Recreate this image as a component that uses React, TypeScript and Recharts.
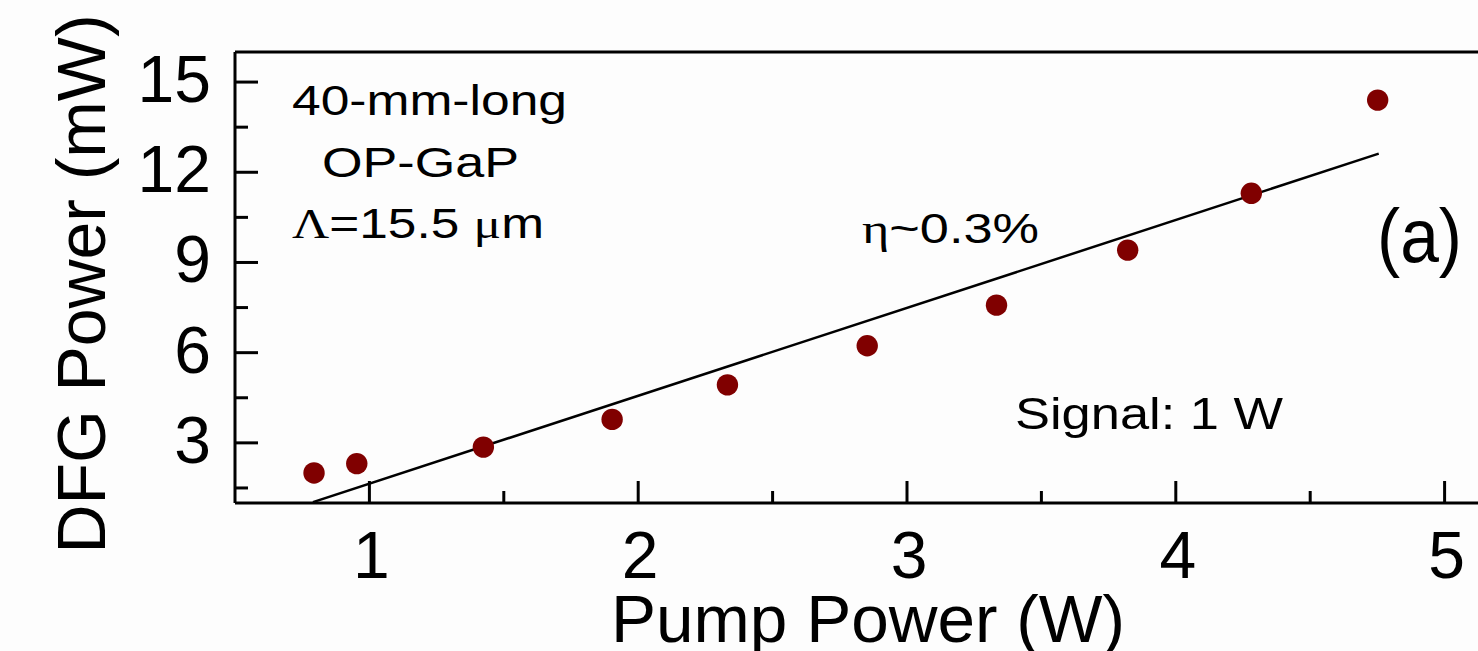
import React from 'react';
import { ComposedChart, XAxis, YAxis, Scatter, Line, ReferenceLine, Customized } from 'recharts';

// Measured DFG output vs pump power
const pumpPower = [0.794, 0.953, 1.424, 1.903, 2.332, 2.852, 3.333, 3.821, 4.281, 4.751];
const dfgPower = [2.0, 2.31, 2.86, 3.78, 4.93, 6.23, 7.58, 9.41, 11.3, 14.4];

// Linear fit end points
const fitPump = [0.79, 4.755];
const fitDfg = [1.03, 12.62];

const xTicks = [1, 1.5, 2, 2.5, 3, 3.5, 4, 4.5, 5];
const yTicks = [1.5, 3, 4.5, 6, 7.5, 9, 10.5, 12, 13.5, 15];

const xTitle = 'Pump Power (W)';
const yTitle = 'DFG Power (mW)';

const measured = pumpPower.map((x, i) => ({ x, y: dfgPower[i] }));
const fit = fitPump.map((x, i) => ({ x, y: fitDfg[i] }));

const SANS = '"Liberation Sans", Arial, sans-serif';
const SERIF = '"Liberation Serif", "Times New Roman", serif';
const DOT = '#800000';

const YTick = (props: any) => {
  const { x, y, payload } = props;
  const v = payload.value;
  const major = Math.abs(v % 3) < 1e-9;
  return (
    <g>
      <line x1={x} y1={y} x2={x + (major ? 23 : 13)} y2={y} stroke="#000" strokeWidth={3} />
      {major && (
        <text x={x - 24} y={y + 20} textAnchor="end" fontSize={66} fontFamily={SANS} fill="#000">
          {v}
        </text>
      )}
    </g>
  );
};

const XTick = (props: any) => {
  const { x, y, payload } = props;
  const v = payload.value;
  const major = Number.isInteger(v);
  return (
    <g>
      <line x1={x} y1={y} x2={x} y2={y - (major ? 22 : 12)} stroke="#000" strokeWidth={3} />
      {major && (
        <text x={x + 2} y={y + 75} textAnchor="middle" fontSize={66} fontFamily={SANS} fill="#000">
          {v}
        </text>
      )}
    </g>
  );
};

const Dot = (props: any) => {
  const { cx, cy } = props;
  return <circle cx={cx} cy={cy} r={10.7} fill={DOT} />;
};

const Annotations = () => (
  <g fontFamily={SANS} fill="#000">
    <text x={292} y={115} fontSize={42} textLength={275} lengthAdjust="spacingAndGlyphs">40-mm-long</text>
    <text x={322} y={177} fontSize={42} textLength={197} lengthAdjust="spacingAndGlyphs">OP-GaP</text>
    <text x={292} y={238} fontSize={42} textLength={252} lengthAdjust="spacingAndGlyphs">
      <tspan fontFamily={SERIF}>Λ</tspan>=15.5 <tspan fontFamily={SERIF}>μ</tspan>m
    </text>
    <text x={862} y={243} fontSize={43} textLength={177} lengthAdjust="spacingAndGlyphs">
      <tspan fontFamily={SERIF}>η</tspan>~0.3%
    </text>
    <text x={1015} y={429} fontSize={44} textLength={268} lengthAdjust="spacingAndGlyphs">Signal: 1 W</text>
    <text x={1377} y={262} fontSize={76} textLength={85} lengthAdjust="spacingAndGlyphs">(a)</text>
    <text x={868} y={642} textAnchor="middle" fontSize={67} textLength={514} lengthAdjust="spacingAndGlyphs">
      {xTitle}
    </text>
    <text
      x={105}
      y={284}
      transform="rotate(-90 105 284)"
      textAnchor="middle"
      fontSize={68}
      textLength={539}
      lengthAdjust="spacingAndGlyphs"
    >
      {yTitle}
    </text>
  </g>
);

export default function App() {
  return (
    <div
      style={{
        position: 'absolute',
        left: 0,
        top: 0,
        width: 1478,
        height: 651,
        overflow: 'hidden',
        background: '#fdfdfd',
      }}
    >
      <ComposedChart width={1600} height={651} margin={{ top: 52, right: 21, bottom: 0, left: 0 }}>
        <XAxis
          type="number"
          dataKey="x"
          domain={[0.5, 5.5]}
          ticks={xTicks}
          interval={0}
          height={148}
          tickSize={0}
          tickMargin={0}
          tickLine={false}
          tick={<XTick />}
          axisLine={{ stroke: '#000', strokeWidth: 3 }}
          allowDataOverflow
        />
        <YAxis
          type="number"
          dataKey="y"
          domain={[1, 16]}
          ticks={yTicks}
          interval={0}
          width={235}
          tickSize={0}
          tickMargin={0}
          tickLine={false}
          tick={<YTick />}
          axisLine={{ stroke: '#000', strokeWidth: 3 }}
          allowDataOverflow
        />
        <ReferenceLine y={16} stroke="#000" strokeWidth={3} />
        <ReferenceLine x={5.5} stroke="#000" strokeWidth={3} />
        <Line
          data={fit}
          dataKey="y"
          type="linear"
          stroke="#000"
          strokeWidth={2.5}
          dot={false}
          activeDot={false}
          isAnimationActive={false}
        />
        <Scatter data={measured} dataKey="y" shape={<Dot />} isAnimationActive={false} />
        <Customized component={Annotations} />
      </ComposedChart>
    </div>
  );
}
